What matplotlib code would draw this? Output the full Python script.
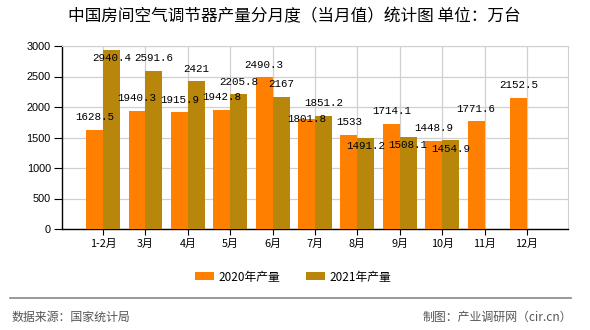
import matplotlib.pyplot as plt
import numpy as np

plt.rcParams['font.family'] = ['Noto Sans CJK SC', 'DejaVu Sans']

months = ["1-2月", "3月", "4月", "5月", "6月", "7月", "8月", "9月", "10月", "11月", "12月"]
prod_2020 = [1628.5, 1940.3, 1915.9, 1942.8, 2490.3, 1801.8, 1533, 1714.1, 1448.9, 1771.6, 2152.5]
prod_2021 = [2940.4, 2591.6, 2421, 2205.8, 2167, 1851.2, 1491.2, 1508.1, 1454.9]

# label lift above the bar top, in pixels (negative = inside the bar)
lift_2020 = [13, 13, 12, 13, 12, 0, 13, 13, 13, 12, 13]
lift_2021 = [-8, 13, 12, 12.5, 13, 13, -8, -8, -8.5]

c20 = '#FF8000'
c21 = '#B8860B'
w = 0.4

fig = plt.figure(figsize=(5.9, 3.3), dpi=100)
ax = fig.add_axes([62/590, 1-229/330, (568-62)/590, (229-46)/330])

x20 = np.arange(len(prod_2020))
x21 = np.arange(len(prod_2021))
ax.bar(x20 - w/2, prod_2020, w, color=c20, label='2020年产量', zorder=3)
ax.bar(x21 + w/2, prod_2021, w, color=c21, label='2021年产量', zorder=3)

mono = ['Liberation Mono', 'DejaVu Sans Mono']
for xi, v, d in zip(x20, prod_2020, lift_2020):
    ax.annotate(f"{v:g}", (xi - w/2, v), xytext=(0, d*0.72), textcoords='offset points',
                ha='center', va='center', fontsize=7.8, family=mono, zorder=5)
for xi, v, d in zip(x21, prod_2021, lift_2021):
    ax.annotate(f"{v:g}", (xi + w/2, v), xytext=(0, d*0.72), textcoords='offset points',
                ha='center', va='center', fontsize=7.8, family=mono, zorder=5)

ax.set_xlim(-0.97, 10.97)
ax.set_ylim(0, 3000)
ax.set_yticks(range(0, 3001, 500))
ax.set_xticks(x20)
ax.set_xticklabels(months, fontsize=7.8)
for t in ax.get_yticklabels():
    t.set_family(['Liberation Sans', 'DejaVu Sans'])
    t.set_fontsize(7.8)
ax.tick_params(axis='y', length=6, width=0.8, pad=2)
ax.tick_params(axis='x', length=4, width=0.8, pad=3)
ax.grid(True, color='#d0d0d0', linewidth=0.9, zorder=0)
ax.set_axisbelow(True)
for s in ['top', 'right']:
    ax.spines[s].set_color('#d0d0d0')
for s in ['left', 'bottom']:
    ax.spines[s].set_color('black')
    ax.spines[s].set_linewidth(1.0)

fig.text(0.498, 1-17/330, "中国房间空气调节器产量分月度（当月值）统计图 单位：万台",
         ha='center', va='center', fontsize=12)

fig.legend(loc='center', bbox_to_anchor=(293/590, 1-277/330), ncol=2, frameon=False,
           fontsize=8.5, handlelength=1.6, handleheight=0.65, columnspacing=2.2,
           handletextpad=0.4)

fig.add_artist(plt.Line2D([10/590, 571/590], [1-298/330, 1-298/330],
                          transform=fig.transFigure, color='#888888', linewidth=1.2))
fig.text(12/590, 1-317/330, "数据来源：国家统计局", ha='left', va='center',
         fontsize=8.6, color='#555555')
fig.text(572/590, 1-317/330, "制图：产业调研网（cir.cn）", ha='right', va='center',
         fontsize=8.6, color='#555555')

fig.savefig('out.png', dpi=100)
